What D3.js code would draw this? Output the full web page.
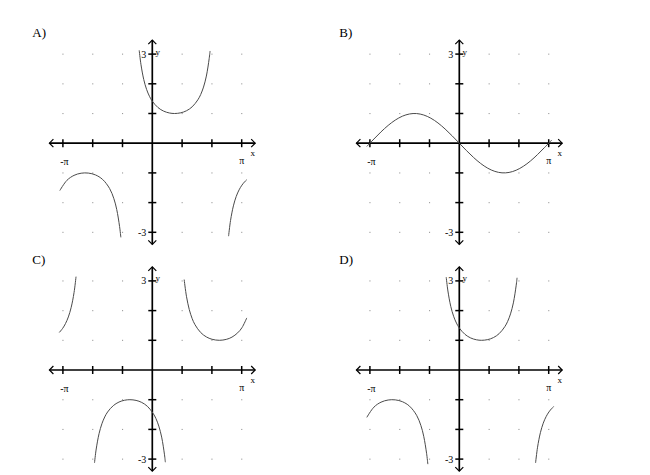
<!DOCTYPE html>
<html>
<head>
<meta charset="utf-8">
<script src="https://cdn.jsdelivr.net/npm/d3@7"></script>
<style>
  html, body { margin: 0; padding: 0; background: #fff; }
  svg { display: block; }
  text { font-family: "Liberation Serif", "Times New Roman", serif; fill: #000; }
</style>
</head>
<body>
<svg id="chart" width="650" height="475"></svg>
<script>
// ---------- data ----------
const panelLabels = ["A)", "B)", "C)", "D)"];
const xTickLabels = ["-π", "π"];
const yTickLabels = ["3", "-3"];
const axisNames = ["x", "y"];
const xTickMultiples = [-3, -2, -1, 1, 2, 3];   // multiples of π/3
const yTickValues = [-3, -2, -1, 1, 2, 3];

// curve points, x in radians
const curveA1 = [[-3.25,-1.595],[-3.0,-1.250],[-2.75,-1.083],[-2.5,-1.0105],[-2.25,-1.0056],[-2.0,-1.067],[-1.75,-1.217],[-1.5,-1.526],[-1.35,-1.869],[-1.25,-2.232],[-1.15,-2.804],[-1.105,-3.17]];
const curveA2 = [[-0.46,3.128],[-0.4,2.660],[-0.3,2.143],[-0.2,1.810],[-0.1,1.580],[0,1.414],[0.2,1.200],[0.4,1.079],[0.6,1.0175],[0.785,1],[1.0,1.0234],[1.2,1.092],[1.4,1.224],[1.6,1.460],[1.7,1.638],[1.8,1.890],[1.9,2.260],[2.0,2.856],[2.03,3.105]];
const curveA3 = [[2.68,-3.13],[2.75,-2.600],[2.85,-2.110],[2.95,-1.791],[3.05,-1.571],[3.15,-1.412],[3.25,-1.294],[3.32,-1.230]];

const curveB1 = [[-3.25,-0.108],[-3.0,0.141],[-2.75,0.382],[-2.5,0.599],[-2.25,0.778],[-2.0,0.909],[-1.75,0.984],[-1.5,0.998],[-1.25,0.949],[-1.0,0.842],[-0.75,0.682],[-0.5,0.479],[-0.25,0.247],[0,0],[0.25,-0.247],[0.5,-0.479],[0.75,-0.682],[1.0,-0.842],[1.25,-0.949],[1.5,-0.998],[1.75,-0.984],[2.0,-0.909],[2.25,-0.778],[2.5,-0.599],[2.75,-0.382],[3.0,-0.141],[3.25,0.108]];

const curveC1 = [[-3.268,1.264],[-3.15,1.402],[-3.05,1.564],[-2.95,1.787],[-2.85,2.110],[-2.75,2.606],[-2.68,3.143]];
const curveC2 = [[-2.031,-3.128],[-1.971,-2.660],[-1.871,-2.143],[-1.771,-1.810],[-1.671,-1.580],[-1.571,-1.414],[-1.371,-1.200],[-1.171,-1.079],[-0.971,-1.0175],[-0.786,-1],[-0.571,-1.0234],[-0.371,-1.092],[-0.171,-1.224],[0.029,-1.460],[0.129,-1.638],[0.229,-1.890],[0.329,-2.260],[0.429,-2.856],[0.459,-3.105]];
const curveC3 = [[1.12,3.045],[1.2,2.483],[1.3,2.032],[1.4,1.734],[1.5,1.526],[1.7,1.262],[1.9,1.114],[2.1,1.034],[2.356,1],[2.6,1.031],[2.8,1.107],[3.0,1.251],[3.15,1.424],[3.32,1.753]];

const curveD1 = [[-3.25,-1.595],[-3.0,-1.250],[-2.75,-1.083],[-2.5,-1.0105],[-2.25,-1.0056],[-2.0,-1.067],[-1.75,-1.217],[-1.5,-1.526],[-1.35,-1.869],[-1.25,-2.232],[-1.15,-2.804],[-1.105,-3.17]];
const curveD2 = [[-0.46,3.128],[-0.4,2.660],[-0.3,2.143],[-0.2,1.810],[-0.1,1.580],[0,1.414],[0.2,1.200],[0.4,1.079],[0.6,1.0175],[0.785,1],[1.0,1.0234],[1.2,1.092],[1.4,1.224],[1.6,1.460],[1.7,1.638],[1.8,1.890],[1.9,2.260],[2.0,2.856],[2.03,3.105]];
const curveD3 = [[2.68,-3.13],[2.75,-2.600],[2.85,-2.110],[2.95,-1.791],[3.05,-1.571],[3.15,-1.412],[3.25,-1.294],[3.32,-1.230]];

const panelCurves = [
  [curveA1, curveA2, curveA3],
  [curveB1],
  [curveC1, curveC2, curveC3],
  [curveD1, curveD2, curveD3]
];

// ---------- layout ----------
const origins = [[152.3, 143.2], [459.3, 143.2], [152.3, 370], [459.3, 370]];
const halfX = 89.4;   // px from origin to ±π
const halfY = 89.1;   // px from origin to ±3

const svg = d3.select("#chart");

panelLabels.forEach((label, i) => {
  const [ox, oy] = origins[i];
  const x = d3.scaleLinear().domain([-Math.PI, Math.PI]).range([ox - halfX, ox + halfX]);
  const y = d3.scaleLinear().domain([-3, 3]).range([oy + halfY, oy - halfY]);
  const g = svg.append("g");

  // panel label
  g.append("text").attr("x", ox - 120).attr("y", oy - 106.5)
    .attr("font-size", 13).text(label);

  // grid dots
  const dots = [];
  xTickMultiples.forEach(m => yTickValues.forEach(v => dots.push([m * Math.PI / 3, v])));
  g.selectAll("rect.dot").data(dots).join("rect").attr("class", "dot")
    .attr("x", d => x(d[0]) - 0.5).attr("y", d => y(d[1]) - 0.5)
    .attr("width", 1.1).attr("height", 1.1).attr("fill", "#9a9a9a");

  // axes
  const ax = g.append("g").attr("stroke", "#000").attr("fill", "none");
  const xl = x(-Math.PI) - 13.5, xr = x(Math.PI) + 13.5;
  const yt = y(3) - 14, yb = y(-3) + 12;
  ax.append("line").attr("x1", xl).attr("x2", xr).attr("y1", y(0)).attr("y2", y(0)).attr("stroke-width", 1.7);
  ax.append("line").attr("x1", x(0)).attr("x2", x(0)).attr("y1", yt).attr("y2", yb).attr("stroke-width", 1.7);
  // arrowheads (open chevrons)
  const ah = 4, aw = 4;
  ax.append("path").attr("stroke-width", 1.2)
    .attr("d", `M${xl + ah},${y(0) - aw}L${xl},${y(0)}L${xl + ah},${y(0) + aw}`);
  ax.append("path").attr("stroke-width", 1.2)
    .attr("d", `M${xr - ah},${y(0) - aw}L${xr},${y(0)}L${xr - ah},${y(0) + aw}`);
  ax.append("path").attr("stroke-width", 1.2)
    .attr("d", `M${x(0) - aw},${yt + ah}L${x(0)},${yt}L${x(0) + aw},${yt + ah}`);
  ax.append("path").attr("stroke-width", 1.2)
    .attr("d", `M${x(0) - aw},${yb - ah}L${x(0)},${yb}L${x(0) + aw},${yb - ah}`);
  // ticks
  ax.selectAll("line.xt").data(xTickMultiples).join("line").attr("class", "xt")
    .attr("x1", d => x(d * Math.PI / 3)).attr("x2", d => x(d * Math.PI / 3))
    .attr("y1", y(0) - 4).attr("y2", y(0) + 4).attr("stroke-width", 1.5);
  ax.selectAll("line.yt").data(yTickValues).join("line").attr("class", "yt")
    .attr("x1", x(0) - 4).attr("x2", x(0) + 4)
    .attr("y1", d => y(d)).attr("y2", d => y(d)).attr("stroke-width", 1.5);

  // tick labels
  g.append("text").attr("x", x(-Math.PI) + 1.5).attr("y", y(0) + 22)
    .attr("font-size", 10).attr("text-anchor", "middle").text(xTickLabels[0]);
  g.append("text").attr("x", x(Math.PI)).attr("y", y(0) + 21)
    .attr("font-size", 10).attr("text-anchor", "middle").text(xTickLabels[1]);
  g.append("text").attr("x", x(0) - 6).attr("y", y(3) + 3.5)
    .attr("font-size", 10).attr("text-anchor", "end").text(yTickLabels[0]);
  g.append("text").attr("x", x(0) - 6).attr("y", y(-3) + 3.5)
    .attr("font-size", 10).attr("text-anchor", "end").text(yTickLabels[1]);
  g.append("text").attr("x", x(Math.PI) + 11).attr("y", y(0) + 13)
    .attr("font-size", 9).attr("text-anchor", "middle").text(axisNames[0]);
  g.append("text").attr("x", x(0) + 5.5).attr("y", y(3) + 0.5)
    .attr("font-size", 9).attr("text-anchor", "middle").text(axisNames[1]);

  // curves
  const line = d3.line().x(d => x(d[0])).y(d => y(d[1])).curve(d3.curveCatmullRom);
  g.selectAll("path.curve").data(panelCurves[i]).join("path").attr("class", "curve")
    .attr("d", line).attr("fill", "none").attr("stroke", "#4a4a4a").attr("stroke-width", 1);
});
</script>
</body>
</html>
